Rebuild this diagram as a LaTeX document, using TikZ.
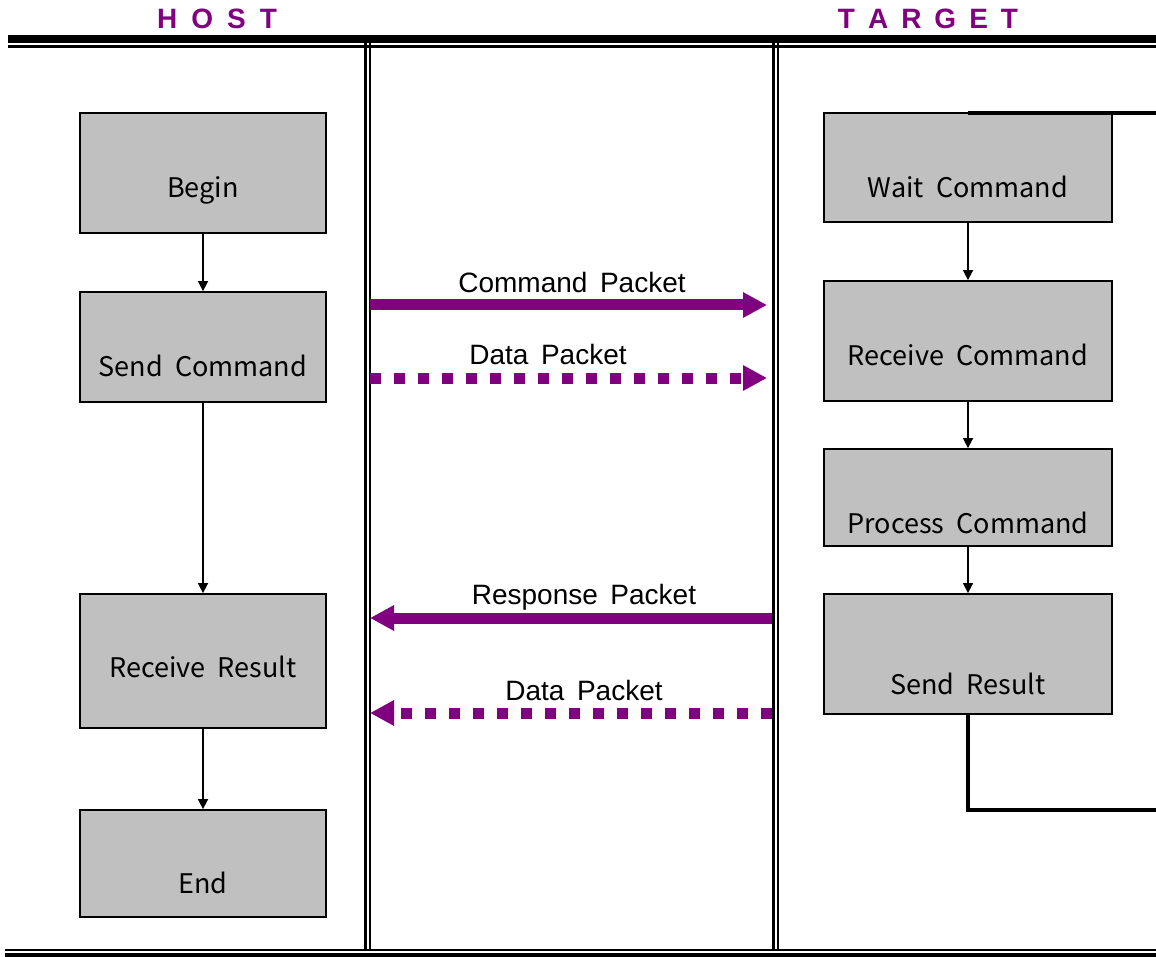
\documentclass[tikz,border=0pt]{standalone}
\usepackage{fontspec}
\setmainfont{Liberation Sans}
\newfontfamily\boxfont{Noto Sans CJK KR}
\usetikzlibrary{arrows.meta}
\definecolor{pkt}{HTML}{800080}
\definecolor{boxgray}{HTML}{C0C0C0}
\begin{document}
\begin{tikzpicture}[x=1pt,y=-1pt,
  flowbox/.style={draw=black,line width=1.8pt,fill=boxgray,inner sep=0pt},
  boxtxt/.style={font=\boxfont\fontsize{27}{30}\selectfont,inner sep=0pt,text height=0.72em,text depth=0pt,anchor=center},
  pkttxt/.style={font=\fontsize{28}{32}\selectfont,inner sep=0pt,text height=0.72em,text depth=0pt,anchor=center},
  headtxt/.style={font=\bfseries\fontsize{28}{32}\selectfont,text=pkt,inner sep=0pt,text height=0.72em,text depth=0pt,anchor=center},
  smallarrow/.style={draw=black,line width=1.6pt,-{Triangle[length=10pt,width=10pt]}},
  loopline/.style={draw=black,line width=3.2pt},
  solidpkt/.style={draw=pkt,line width=11pt,-{Triangle[length=24pt,width=24pt]}},
  dashpkt/.style={draw=pkt,line width=11pt,dash pattern=on 11pt off 13pt,-{Triangle[length=24pt,width=24pt]}},
  divider/.style={draw=black,line width=2.4pt}
]
\useasboundingbox (0,0) rectangle (1156,957);
\fill[white] (0,0) rectangle (1156,957);

% headers
\node[headtxt] (host) at (217,24.5) {H\hspace{14pt}O\hspace{14pt}S\hspace{14pt}T};
\node[headtxt] (target) at (928,24.5) {T\hspace{13pt}A\hspace{13pt}R\hspace{13pt}G\hspace{13pt}E\hspace{13pt}T};

% frame lines
\coordinate (topL) at (8,39);
\coordinate (topR) at (1156,39);
\coordinate (topL2) at (8,46.5);
\coordinate (topR2) at (1156,46.5);
\draw[black,line width=8pt] (topL) -- (topR);
\draw[black,line width=2.2pt] (topL2) -- (topR2);
\coordinate (botL) at (5,950);
\coordinate (botR) at (1156,950);
\coordinate (botL2) at (5,956);
\coordinate (botR2) at (1156,956);
\draw[black,line width=2.2pt] (botL) -- (botR);
\draw[black,line width=6pt] (botL2) -- (botR2);

\coordinate (d1t) at (365.5,43); \coordinate (d1b) at (365.5,951);
\coordinate (d2t) at (369.8,43); \coordinate (d2b) at (369.8,951);
\coordinate (d3t) at (773.5,43); \coordinate (d3b) at (773.5,951);
\coordinate (d4t) at (778,43); \coordinate (d4b) at (778,951);
\draw[divider] (d1t) -- (d1b);
\draw[divider] (d2t) -- (d2b);
\draw[divider] (d3t) -- (d3b);
\draw[divider] (d4t) -- (d4b);

% host boxes
\node[flowbox,minimum width=246pt,minimum height=120pt] (begin) at (203,173) {};
\node[flowbox,minimum width=246pt,minimum height=110pt] (send) at (203,347) {};
\node[flowbox,minimum width=246pt,minimum height=134pt] (recv) at (203,661) {};
\node[flowbox,minimum width=246pt,minimum height=107pt] (end) at (203,863.5) {};
\node[boxtxt] (beginT) at (203,194) {Begin};
\node[boxtxt] (sendT) at (203,373) {Send\hspace{0.45em}Command};
\node[boxtxt] (recvT) at (203,674) {Receive\hspace{0.45em}Result};
\node[boxtxt] (endT) at (203,890) {End};

% target boxes
\node[flowbox,minimum width=288pt,minimum height=109pt] (wait) at (968,167.5) {};
\node[flowbox,minimum width=288pt,minimum height=120pt] (rcmd) at (968,341) {};
\node[flowbox,minimum width=288pt,minimum height=97pt] (pcmd) at (968,497.5) {};
\node[flowbox,minimum width=288pt,minimum height=120pt] (sres) at (968,654) {};
\node[boxtxt] (waitT) at (968,194) {Wait\hspace{0.45em}Command};
\node[boxtxt] (rcmdT) at (968,362) {Receive\hspace{0.45em}Command};
\node[boxtxt] (pcmdT) at (968,530) {Process\hspace{0.45em}Command};
\node[boxtxt] (sresT) at (968,691) {Send\hspace{0.45em}Result};

% flow arrows
\draw[smallarrow] (begin.south) -- (send.north);
\draw[smallarrow] (send.south) -- (recv.north);
\draw[smallarrow] (recv.south) -- (end.north);
\draw[smallarrow] (wait.south) -- (rcmd.north);
\draw[smallarrow] (rcmd.south) -- (pcmd.north);
\draw[smallarrow] (pcmd.south) -- (sres.north);

% loop line
\coordinate (loopTop) at (1156,113);
\coordinate (loopBot) at (1156,810);
\draw[loopline] (wait.north |- loopTop) -- (loopTop);
\draw[loopline] (sres.south) -- (sres.south |- loopBot) -- (loopBot);

% packets
\coordinate (cmdL) at (370,305); \coordinate (cmdR) at (767,305);
\coordinate (dat1L) at (370,378); \coordinate (dat1R) at (767,378);
\coordinate (rspR) at (772,618); \coordinate (rspL) at (370,618);
\coordinate (dat2R) at (772,713); \coordinate (dat2L) at (370,713);
\draw[solidpkt] (cmdL) -- (cmdR);
\draw[dashpkt] (dat1L) -- (dat1R);
\draw[solidpkt] (rspR) -- (rspL);
\draw[dashpkt] (dat2R) -- (dat2L);
\node[pkttxt] (cmdT) at (572,289) {Command\hspace{0.45em}Packet};
\node[pkttxt] (dat1T) at (548,361) {Data\hspace{0.45em}Packet};
\node[pkttxt] (rspT) at (584,601) {Response\hspace{0.45em}Packet};
\node[pkttxt] (dat2T) at (584,697) {Data\hspace{0.45em}Packet};
\end{tikzpicture}
\end{document}
